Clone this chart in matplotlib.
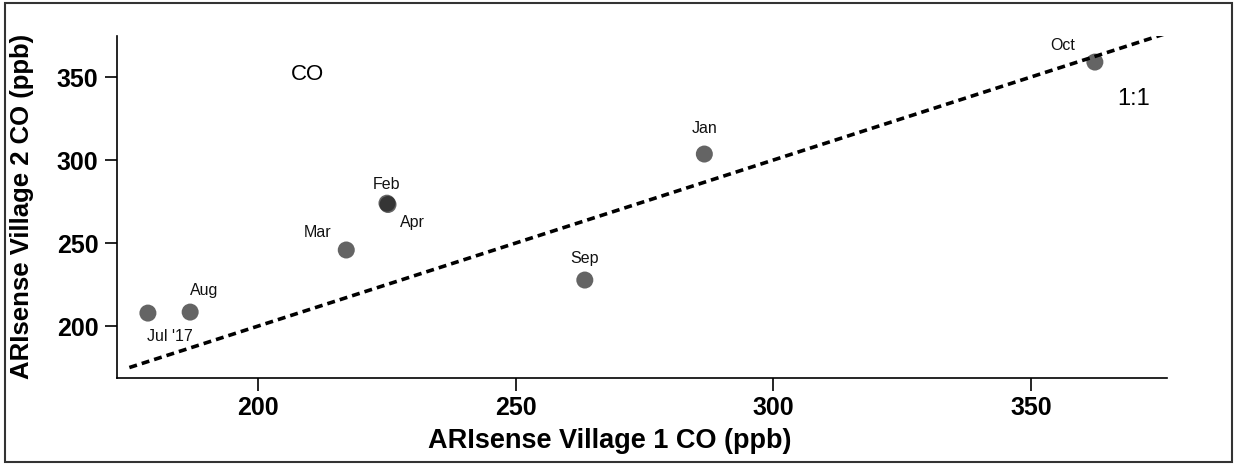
import numpy as np
import matplotlib
matplotlib.use('Agg')
import matplotlib.pyplot as plt
from matplotlib.patches import Rectangle

plt.rcParams['font.family'] = ['Liberation Sans', 'DejaVu Sans']

# monthly mean CO (ppb), village 1 vs village 2
months = ["Jul '17", 'Aug', 'Mar', 'Feb', 'Apr', 'Sep', 'Jan', 'Oct']
co_v1 = [178.6, 186.8, 217.1, 225.0, 225.2, 263.4, 286.6, 362.4]
co_v2 = [207.8, 208.4, 245.8, 274.0, 273.2, 227.7, 303.6, 359.0]
one_to_one = [175, 376.5]

xticks = [200, 250, 300, 350]
yticks = [200, 250, 300, 350]

# label offsets (pixels) from each point
label_off = {"Jul '17": (22, -23), 'Aug': (14, 22), 'Mar': (-29, 17), 'Feb': (0, 19),
             'Apr': (24, -18), 'Sep': (0, 22), 'Jan': (0, 26), 'Oct': (-32, 17)}

fig = plt.figure(figsize=(12.35, 4.65), dpi=100)
ax = fig.add_axes([117/1235, 1-378/465, 1050/1235, 342/465])

ax.plot(one_to_one, one_to_one, color='k', lw=2.6, ls=(0, (2.2, 1.4)), zorder=3)
ax.scatter(co_v1, co_v2, s=150, color='#222222', alpha=0.7, edgecolors='none', zorder=2)

for m, x, y in zip(months, co_v1, co_v2):
    dx, dy = label_off[m]
    ax.annotate(m, (x, y), xytext=(dx, dy), textcoords='offset pixels',
                ha='center', va='center', fontsize=11.5, color='#111111')

ax.text(0.181, 0.886, 'CO', transform=ax.transAxes, fontsize=16, ha='center', va='center')
ax.text(0.9686, 0.816, '1:1', transform=ax.transAxes, fontsize=17, ha='center', va='center')

ax.set_xlim(172.6, 376.4)
ax.set_ylim(168.7, 374.7)
ax.set_xticks(xticks)
ax.set_yticks(yticks)
for lab in ax.get_xticklabels() + ax.get_yticklabels():
    lab.set_fontweight('bold')
ax.tick_params(axis='both', labelsize=18, length=9, width=1.2, direction='out')
ax.tick_params(axis='y', pad=4.5)
ax.tick_params(axis='x', pad=4)
ax.spines['top'].set_visible(False)
ax.spines['right'].set_visible(False)
ax.spines['left'].set_linewidth(1.2)
ax.spines['bottom'].set_linewidth(1.2)

ax.set_xlabel('ARIsense Village 1 CO (ppb)', fontsize=19.5, fontweight='bold')
ax.set_ylabel('ARIsense Village 2 CO (ppb)', fontsize=18.5, fontweight='bold')
ax.xaxis.set_label_coords(0.469, -0.146)
ax.yaxis.set_label_coords(-0.079, 0.503)

fig.patches.append(Rectangle((5/1235, 3/465), 1227/1235, 459/465, transform=fig.transFigure,
                             fill=False, lw=1.5, ec='#333333'))

fig.savefig('out.png', dpi=100)
